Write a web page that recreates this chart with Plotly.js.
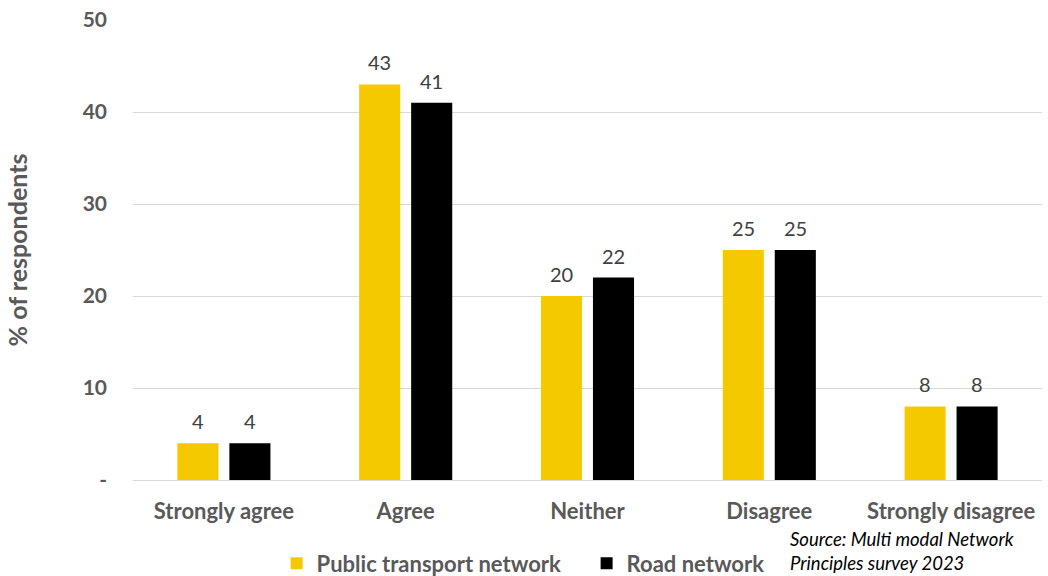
<!DOCTYPE html>
<html>
<head>
<meta charset="utf-8">
<script src="https://cdn.plot.ly/plotly-3.0.1.min.js"></script>
<style>html,body{margin:0;padding:0;background:#fff;}#chart{width:1048px;height:576px;}</style>
</head>
<body>
<div id="chart"></div>
<script>
const categories = ["Strongly agree", "Agree", "Neither", "Disagree", "Strongly disagree"];
const publicTransport = [4, 43, 20, 25, 8];
const roadNetwork = [4, 41, 22, 25, 8];
const seriesNames = ["Public transport network", "Road network"];
const yTickVals = [0, 10, 20, 30, 40, 50];
const yTickText = ["-", "10", "20", "30", "40", "50"];
const sourceText = "Source: Multi modal Network<br>Principles survey 2023";

const FONT = "Lato, 'Open Sans', sans-serif";
const labelFont = {family: FONT, size: 20, color: "#404040"};

const traces = [
  {type: "bar", name: seriesNames[0], x: categories, y: publicTransport,
   marker: {color: "#F5C900"}},
  {type: "bar", name: seriesNames[1], x: categories, y: roadNetwork,
   marker: {color: "#000000"}}
];

// data labels placed through the axes' own scales
const labelAnnotations = [];
[publicTransport, roadNetwork].forEach((vals, s) => {
  vals.forEach((v, i) => {
    labelAnnotations.push({x: categories[i], y: v, xref: "x", yref: "y",
      text: String(v), showarrow: false, xanchor: "center", yanchor: "bottom",
      xshift: s === 0 ? -26 : 26, yshift: 8, font: labelFont});
  });
});

const layout = {
  width: 1048, height: 576,
  margin: {l: 133, r: 6, t: 20, b: 96},
  paper_bgcolor: "#ffffff", plot_bgcolor: "#ffffff",
  barmode: "group", bargap: 0.428, bargroupgap: 0.21,
  showlegend: true,
  legend: {orientation: "h", x: 0.158, xanchor: "left",
           yref: "container", y: 0.022, yanchor: "middle",
           font: {family: FONT, size: 22, color: "#595959", weight: "bold"},
           itemwidth: 30, traceorder: "normal",
           entrywidth: 265, entrywidthmode: "pixels"},
  xaxis: {showgrid: false, showline: false, zeroline: false, ticks: "",
          automargin: false,
          tickfont: {family: FONT, size: 22, color: "#595959", weight: "bold"},
          ticklabelstandoff: 16, fixedrange: true},
  yaxis: {range: [0, 50], tickvals: yTickVals, ticktext: yTickText,
          automargin: false,
          showgrid: true, gridcolor: "#d9d9d9", gridwidth: 1,
          zeroline: true, zerolinecolor: "#d9d9d9", zerolinewidth: 1,
          showline: false, ticks: "",
          tickfont: {family: FONT, size: 21, color: "#595959", weight: "bold"},
          ticklabelstandoff: 25,
          title: {text: "% of respondents", standoff: 47,
                  font: {family: FONT, size: 25, color: "#595959", weight: "bold"}},
          fixedrange: true},
  annotations: labelAnnotations.concat([{text: sourceText, xref: "paper", yref: "paper",
                 x: 0.7205, y: -0.1,
                 xanchor: "left", yanchor: "top", align: "left", showarrow: false,
                 font: {family: FONT, size: 18.5, color: "#000000", style: "italic"}}])
};

Plotly.newPlot("chart", traces, layout, {displayModeBar: false, staticPlot: true});
</script>
</body>
</html>
